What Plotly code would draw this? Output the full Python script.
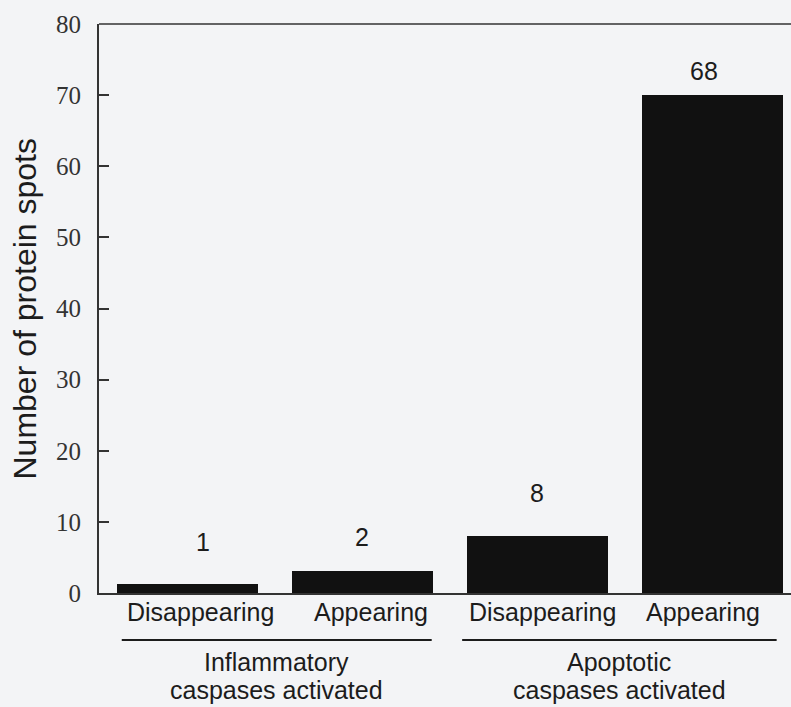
import plotly.graph_objects as go

# ---- data ----
categories = ["Disappearing", "Appearing", "Disappearing", "Appearing"]
bar_values = [1.2, 3.1, 8.0, 70.0]
bar_labels = ["1", "2", "8", "68"]
groups = ["Inflammatory<br>caspases activated", "Apoptotic<br>caspases activated"]
group_members = [[0, 1], [2, 3]]
y_ticks = [0, 10, 20, 30, 40, 50, 60, 70, 80]
y_title = "Number of protein spots"

# ---- style ----
BG = "#f3f4f6"
INK = "#1c1c1c"
SANS = "Liberation Sans, Arial, sans-serif"
SERIF = "Liberation Serif, Times New Roman, serif"
bar_width = 0.806
label_shift = [42, 34, 43, 24]
cat_xshift = [13, 9, 5, -9]
val_xshift = [16, 0, 0, -8]
group_line_inset = [(0.03, -0.005), (-0.025, -0.034)]

xs = list(range(len(categories)))

fig = go.Figure()
fig.add_trace(go.Bar(
    x=xs, y=bar_values, width=bar_width,
    marker=dict(color="#111111", line=dict(width=0)),
    hoverinfo="skip", showlegend=False,
))

annotations = []
# value labels
for i, (v, t) in enumerate(zip(bar_values, bar_labels)):
    annotations.append(dict(x=xs[i], y=v, xref="x", yref="y", text=t, showarrow=False,
                            yanchor="middle", yshift=label_shift[i], xshift=val_xshift[i],
                            font=dict(family=SANS, size=25, color=INK)))
# category labels
for i, c in enumerate(categories):
    annotations.append(dict(x=xs[i], y=0, xref="x", yref="paper", text=c, showarrow=False,
                            yanchor="middle", yshift=-19, xshift=cat_xshift[i],
                            font=dict(family=SANS, size=25, color=INK)))

shapes = []
plot_h = 707 - 24 - 114
for gi, (g, members) in enumerate(zip(groups, group_members)):
    x0 = xs[members[0]] - bar_width / 2 + group_line_inset[gi][0]
    x1 = xs[members[-1]] + bar_width / 2 + group_line_inset[gi][1]
    shapes.append(dict(type="line", xref="x", yref="paper", x0=x0, x1=x1,
                       y0=-47 / plot_h, y1=-47 / plot_h,
                       line=dict(color=INK, width=2)))
    line1, line2 = g.split("<br>")
    xc = (x0 + x1) / 2
    annotations.append(dict(x=xc, y=0, xref="x", yref="paper", text=line1, showarrow=False,
                            yanchor="middle", yshift=-69,
                            font=dict(family=SANS, size=25, color=INK)))
    annotations.append(dict(x=xc, y=0, xref="x", yref="paper", text=line2, showarrow=False,
                            yanchor="middle", yshift=-97,
                            font=dict(family=SANS, size=25, color=INK)))

# top border line
shapes.append(dict(type="line", xref="paper", yref="paper", x0=0, x1=1, y0=1, y1=1,
                   line=dict(color="#333333", width=1.5)))

# y title
annotations.append(dict(x=0, y=0.5, xref="paper", yref="paper", text=y_title, showarrow=False,
                        textangle=-90, xanchor="center", yanchor="middle", xshift=-75,
                        font=dict(family=SANS, size=32, color=INK)))

fig.update_layout(
    width=791, height=707,
    margin=dict(l=99, r=0, t=24, b=114),
    paper_bgcolor=BG, plot_bgcolor=BG,
    bargap=0,
    annotations=annotations, shapes=shapes,
    xaxis=dict(range=[-0.503, 3.451], showline=True, linecolor="#333333", linewidth=2,
               showgrid=False, zeroline=False, showticklabels=False, ticks=""),
    yaxis=dict(range=[0, 80], tickvals=y_ticks, ticktext=[str(t) for t in y_ticks],
               showline=True, linecolor="#333333", linewidth=2,
               ticks="inside", ticklen=10, tickwidth=1.5, tickcolor="#333333",
               showgrid=False, zeroline=False, ticklabelstandoff=11,
               tickfont=dict(family=SERIF, size=25, color="#333333")),
)

fig.write_html(
    "out.html",
    config={"displayModeBar": False},
    post_script="document.body.style.margin='0px';document.body.style.overflow='hidden';"
                "document.body.style.background='" + BG + "';",
)
